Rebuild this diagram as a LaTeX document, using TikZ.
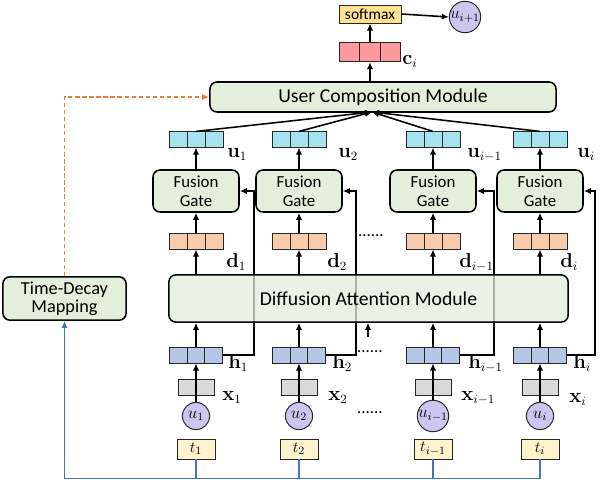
\documentclass[tikz,border=0pt]{standalone}
\usepackage[no-math]{fontspec}
\setmainfont{Carlito}
\usetikzlibrary{arrows.meta,positioning,calc}
\definecolor{hblue}{RGB}{180,199,231}
\definecolor{xgray}{RGB}{217,217,217}
\definecolor{ulav}{RGB}{206,198,240}
\definecolor{tyel}{RGB}{255,242,204}
\definecolor{dora}{RGB}{248,203,173}
\definecolor{ucyan}{RGB}{166,226,240}
\definecolor{cred}{RGB}{255,153,160}
\definecolor{smyel}{RGB}{255,226,145}
\definecolor{modgreen}{RGB}{226,239,218}
\definecolor{tblue}{RGB}{68,114,196}
\definecolor{dorange}{RGB}{237,125,49}

\begin{document}
\begin{tikzpicture}[x=0.025cm,y=-0.025cm,
  arr/.style={-{Latex[length=5pt,width=4.5pt]},line width=1.1pt},
  module/.style={draw=black,line width=1.1pt,rounded corners=5pt,fill=modgreen,align=center},
  gate/.style={module,minimum width=2.15cm,minimum height=1.05cm,font=\fontsize{12}{13.5}\selectfont},
  cells/.style={path picture={
    \pgfmathtruncatemacro\last{#1-1}
    \foreach \k in {1,...,\last}{
      \draw[line width=0.7pt] ($(path picture bounding box.north west)!\k/#1!(path picture bounding box.north east)$)
        -- ($(path picture bounding box.south west)!\k/#1!(path picture bounding box.south east)$);}}},
  vecbox/.style={draw=black!85,line width=0.7pt,inner sep=0pt,minimum height=0.4cm},
  hvec/.style={vecbox,fill=hblue,minimum width=1.33cm,cells=3},
  xvec/.style={vecbox,fill=xgray,minimum width=0.9cm,minimum height=0.42cm,cells=2},
  dvec/.style={vecbox,fill=dora,minimum width=1.35cm,cells=3},
  uvec/.style={vecbox,fill=ucyan,minimum width=1.35cm,minimum height=0.38cm,cells=3},
  cvec/.style={vecbox,fill=cred,minimum width=1.53cm,minimum height=0.48cm,cells=3},
  ucirc/.style={circle,draw=black!85,line width=0.7pt,fill=ulav,minimum size=0.68cm,inner sep=0pt,font=\fontsize{11.5}{12}\selectfont},
  tbox/.style={draw=black!85,line width=0.7pt,fill=tyel,minimum width=0.95cm,minimum height=0.5cm,inner sep=0pt,font=\fontsize{11}{12}\selectfont},
  lbl/.style={anchor=base west,inner sep=0pt,font=\fontsize{13.5}{15}\selectfont},
  dots/.style={inner sep=0pt,font=\fontsize{12}{14}\selectfont},
  tline/.style={draw=tblue,line width=1.2pt},
  decay/.style={draw=dorange,line width=1.1pt,dash pattern=on 3pt off 2pt,-{Latex[length=5pt,width=4.5pt]}},
]
  \useasboundingbox (0,0) rectangle (600,480);

  % output part
  \node[draw=black!85,line width=0.7pt,fill=smyel,minimum width=1.55cm,minimum height=0.45cm,inner sep=0pt,
        font=\fontsize{11}{12}\selectfont] (soft) at (370,14) {softmax};
  \node[ucirc] (unext) at (465,17) {$u_{i+1}$};
  \node[cvec] (ci) at (370,52) {};
  \node[lbl] (lci) at (402,64) {$\mathbf{c}_i$};
  \node[module,minimum width=8.65cm,minimum height=0.75cm,font=\fontsize{14}{16}\selectfont] (ucm) at (383,97) {User Composition Module};
  \node[module,minimum width=3.08cm,minimum height=0.98cm,font=\fontsize{13}{13}\selectfont] (tdm) at (64.5,298.5) {Time-Decay\\Mapping};

  % one column per item
  \foreach \n/\cx/\s/\off in {1/196/1/31, 2/299/2/30, 3/433/{i-1}/34, 4/540/i/28}{
    \node[tbox] (t\n) at (\cx,449) {$t_{\s}$};
    \node[ucirc] (uc\n) at (\cx,416) {$u_{\s}$};
    \node[xvec] (x\n) at (\cx,387.5) {};
    \node[hvec] (h\n) at (\cx,355) {};
    \node[dvec] (d\n) at (\cx,241) {};
    \node[gate] (fg\n) at (\cx,191) {Fusion\\Gate};
    \node[uvec] (u\n) at (\cx,139.5) {};
    \draw[arr] (uc\n.north) -- (h\n.south);
    \draw[arr] (h\n.east) -- ++(\off,0) |- (fg\n.east);
    \draw[arr] (d\n.north) -- (fg\n.south);
    \draw[arr] (fg\n.north) -- (u\n.south);
    \draw[tline] (t\n.south) -- ++(0,19);
  }

  % attention module over the skip lines
  \node[module,fill opacity=0.75,text opacity=1,minimum width=9.98cm,minimum height=1.18cm,
        font=\fontsize{14}{16}\selectfont] (dam) at (368.5,298.5) {Diffusion Attention Module};
  \foreach \n in {1,...,4}{
    \draw[arr] (h\n.north) -- (h\n.north |- dam.south);
    \draw[arr] (d\n.south |- dam.north) -- (d\n.south);
  }
  \coordinate (mid) at (368,337);
  \draw[arr] (mid) -- (mid |- dam.south);

  % composition and prediction
  \coordinate (merge) at (372,112);
  \foreach \n in {1,...,4}
    \draw[arr] (u\n.north) -- (merge);
  \draw[arr] (ci |- ucm.north) -- (ci.south);
  \draw[arr] (ci.north) -- (soft.south);
  \draw[arr] (soft.east) -- (unext.west);

  % time decay
  \draw[tline,-{Latex[length=5pt,width=4.5pt]}] (t4.south) -- ++(0,19) -| (tdm.south);
  \draw[decay] (tdm.north) |- (ucm.west);

  % labels
  \node[lbl] (lu1) at (227,157) {$\mathbf{u}_1$};
  \node[lbl] (lu2) at (338,157) {$\mathbf{u}_2$};
  \node[lbl] (lu3) at (467,157) {$\mathbf{u}_{i-1}$};
  \node[lbl] (lu4) at (577,157) {$\mathbf{u}_i$};
  \node[lbl] (ld1) at (226,267) {$\mathbf{d}_1$};
  \node[lbl] (ld2) at (327,267) {$\mathbf{d}_2$};
  \node[lbl] (ld3) at (459,267) {$\mathbf{d}_{i-1}$};
  \node[lbl] (ld4) at (560,267) {$\mathbf{d}_i$};
  \node[lbl] (lh1) at (228,368) {$\mathbf{h}_1$};
  \node[lbl] (lh2) at (332,368) {$\mathbf{h}_2$};
  \node[lbl] (lh3) at (468,368) {$\mathbf{h}_{i-1}$};
  \node[lbl] (lh4) at (573,368) {$\mathbf{h}_i$};
  \node[lbl] (lx1) at (222,400) {$\mathbf{x}_1$};
  \node[lbl] (lx2) at (328,400) {$\mathbf{x}_2$};
  \node[lbl] (lx3) at (461,400) {$\mathbf{x}_{i-1}$};
  \node[lbl] (lx4) at (569,402) {$\mathbf{x}_i$};
  \node[dots] (dd) at (371,236) {......};
  \node[dots] (dh) at (370,352) {......};
  \node[dots] (du) at (370,413) {......};
\end{tikzpicture}
\end{document}
